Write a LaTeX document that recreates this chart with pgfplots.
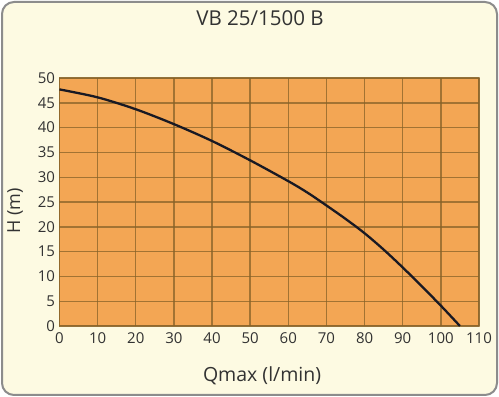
\documentclass[border=0pt]{standalone}
\usepackage{pgfplots}
\pgfplotsset{compat=1.18}
\usepackage{fontspec}
\setmainfont{Open Sans}
\definecolor{cream}{RGB}{253,250,226}
\definecolor{plotorange}{RGB}{243,166,84}
\definecolor{gridc}{RGB}{135,98,40}
\definecolor{txt}{RGB}{50,50,50}
\definecolor{bordc}{RGB}{140,140,140}
\begin{document}
\begin{tikzpicture}[x=1pt,y=1pt]
\useasboundingbox (0,0) rectangle (499,397);
\fill[white] (0,0) rectangle (499,397);
\draw[bordc, line width=2pt, fill=cream, rounded corners=12pt] (2,2) rectangle (497,395);
\begin{axis}[
  at={(59.5pt,71pt)}, anchor=south west,
  scale only axis, width=419.5pt, height=248pt,
  xmin=0, xmax=110, ymin=0, ymax=50,
  xtick={0,10,...,110}, ytick={0,5,...,50},
  grid=major,
  major grid style={gridc, line width=1.4pt, opacity=0.75},
  axis line style={gridc, line width=1.2pt, opacity=0.6},
  axis background/.style={fill=plotorange},
  major tick length=0pt,
  /pgf/number format/assume math mode=true,
  ticklabel style={font=\fontsize{15}{17}\selectfont, text=txt},
  xticklabel style={yshift=-3pt},
  yticklabel style={xshift=-1pt},
  title={VB 25/1500 B},
  title style={at={(axis description cs:0.478,1.218)}, anchor=center, font=\fontsize{20.5}{24}\selectfont, text=txt},
  xlabel={Qmax (l/min)},
  xlabel style={at={(axis description cs:0.483,-0.2)}, anchor=center, font=\fontsize{19.5}{22}\selectfont, text=txt},
  ylabel={H (m)},
  ylabel style={at={(axis description cs:-0.106,0.464)}, anchor=center, rotate=0, font=\fontsize{18}{20}\selectfont, text=txt},
]
\addplot[color={rgb,255:red,25;green,25;blue,35}, line width=2.3pt, smooth, tension=0.5] coordinates {
(0,47.7) (10,46.1) (20,43.7) (30,40.7) (40,37.3) (50,33.4) (60,29.2) (65,26.9) (70,24.3) (75,21.6) (80,18.7) (85,15.4) (90,11.8) (95,8.0) (100,4.1) (105,0)
};
\end{axis}
\end{tikzpicture}
\end{document}
